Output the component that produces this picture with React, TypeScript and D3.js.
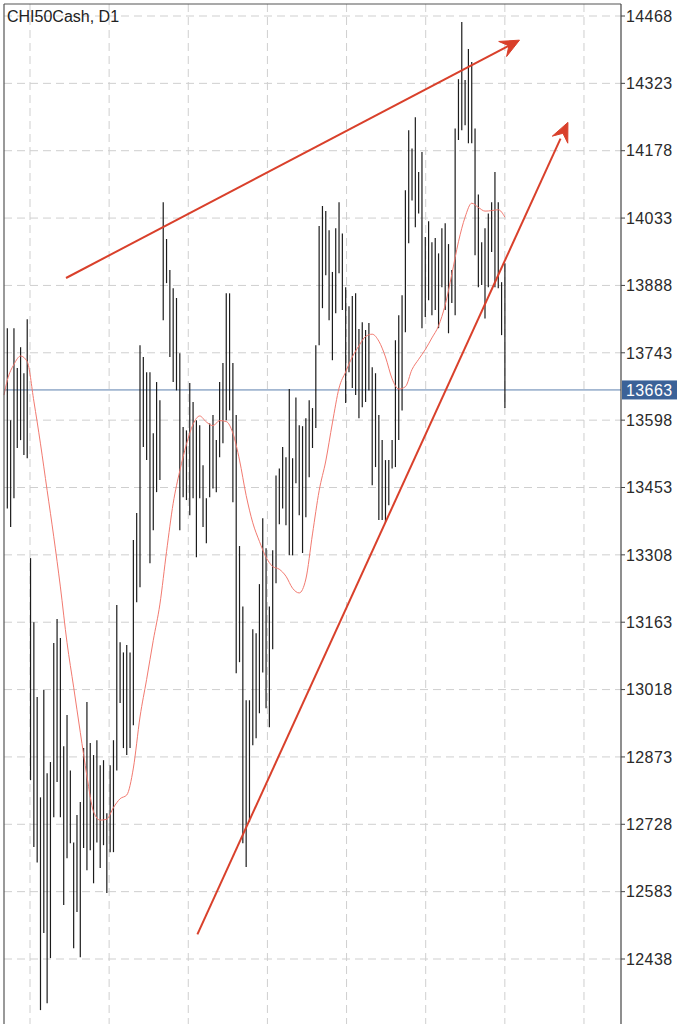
import React from 'react';
import * as d3 from 'd3';

const W = 682;
const H = 1024;
const title = 'CHI50Cash, D1';
const yTicks = [14468, 14323, 14178, 14033, 13888, 13743, 13598, 13453, 13308, 13163, 13018, 12873, 12728, 12583, 12438];
const lastPrice = 13663;

const highs = [
  13796, 13598, 13796, 13710, 13755, 13699, 13815, 13301, 13163, 13002,
  12786, 13017, 12838, 12862, 13118, 13170, 13129, 12896, 12963, 12844,
  12689, 12748, 12776, 12892, 12991, 12903, 12877, 12909, 12855, 12866,
  12752, 12855, 12909, 13200, 13120, 13098, 13114, 13098, 13340, 13398,
  13759, 13734, 13701, 13701, 13570, 13680, 13641, 14067, 13988, 13921,
  13882, 13861, 13742, 13583, 13576, 13678, 13637, 13598, 13587, 13501,
  13430, 13591, 13609, 13555, 13680, 13721, 13871, 13871, 13721, 13609,
  13327, 13197, 12995, 12995, 13148, 13139, 13245, 13387, 13322, 13197,
  13318, 13479, 13494, 13540, 13518, 13665, 13516, 13647, 13587, 13585,
  13602, 13641, 13624, 13759, 14016, 14059, 14048, 14007, 13917, 14011,
  14067, 14000, 13884, 13843, 13865, 13871, 13794, 13809, 13792, 13807,
  13712, 13699, 13609, 13555, 13512, 13512, 13555, 13770, 13824, 13867,
  14093, 14222, 14183, 14250, 14132, 14175, 13992, 14026, 13981, 13990,
  13957, 14011, 14022, 13977, 13921, 14226, 14332, 14455, 14330, 14397,
  14369, 14226, 14084, 13981, 14011, 14043, 14067, 14132, 14067, 13895,
  13936,
];
const lows = [
  13408, 13368, 13430, 13538, 13555, 13523, 13516, 12823, 12679, 12646,
  12328, 12494, 12343, 12440, 12743, 12819, 12743, 12554, 12655, 12687,
  12461, 12539, 12442, 12677, 12629, 12672, 12601, 12689, 12634, 12683,
  12580, 12668, 12668, 12844, 12989, 12892, 12877, 12892, 12941, 13206,
  13238, 13540, 13512, 13290, 13361, 13443, 13469, 13813, 13893, 13734,
  13680, 13662, 13361, 13432, 13426, 13393, 13430, 13303, 13430, 13368,
  13333, 13432, 13451, 13443, 13518, 13548, 13598, 13619, 13421, 13053,
  13077, 12687, 12636, 12733, 12898, 12913, 12967, 13055, 12978, 12937,
  13105, 13247, 13374, 13408, 13372, 13307, 13307, 13462, 13393, 13312,
  13389, 13475, 13538, 13581, 13759, 13839, 13910, 13813, 13727, 13828,
  13914, 13835, 13635, 13701, 13667, 13652, 13602, 13626, 13637, 13662,
  13458, 13497, 13383, 13383, 13378, 13415, 13494, 13497, 13555, 13619,
  13787, 13979, 14071, 14013, 14043, 13796, 13820, 13856, 13824, 13835,
  13796, 13884, 13835, 13785, 13850, 13824, 14201, 14222, 14233, 14194,
  14194, 13953, 13884, 13889, 13817, 13884, 13960, 13884, 13882, 13781,
  13624,
];

const maIdx = [-1, 0, 2, 4, 6, 8, 10, 12, 14, 16, 18, 20, 22, 24, 26, 28, 30, 32, 34, 36, 38, 40,
  42, 44, 46, 48, 50, 52, 54, 56, 58, 60, 62, 64, 66, 68, 70, 72, 74, 76, 78, 80, 82, 84, 86, 88,
  90, 92, 94, 96, 98, 100, 102, 104, 106, 108, 110, 112, 114, 116, 118, 120, 122, 124, 126, 128,
  130, 132, 134, 136, 138, 140, 142, 144, 146, 148, 150];
const maVal = [13652, 13684, 13718, 13736, 13724, 13639, 13547, 13447, 13347, 13239, 13119, 13023,
  12926, 12832, 12755, 12737, 12739, 12764, 12783, 12791, 12849, 12959, 13040, 13124, 13202, 13315,
  13419, 13489, 13546, 13589, 13607, 13594, 13586, 13597, 13595, 13570, 13512, 13436, 13377, 13337,
  13303, 13283, 13277, 13262, 13236, 13226, 13256, 13353, 13446, 13510, 13592, 13667, 13702, 13734,
  13758, 13778, 13783, 13768, 13734, 13687, 13665, 13670, 13707, 13729, 13750, 13775, 13801, 13846,
  13912, 13982, 14035, 14065, 14056, 14048, 14049, 14051, 14035];

const trendFromIdx = [17.7, 57.3];
const trendFromVal = [13904, 12491];
const trendToIdx = [154.4, 169.0];
const trendToVal = [14416, 14239];

const FONT = '"Liberation Sans", Arial, Helvetica, sans-serif';

export default function App() {
  const left = 4, right = 621, top = 4;
  const x = d3.scaleLinear().domain([-1, 185]).range([left, right]);
  const y = d3.scaleLinear().domain([12438, 14468]).range([959, 16]);

  const gridX0 = 30, gridStep = 79.14;
  const gridXs = d3.range(8).map((i) => gridX0 + i * gridStep);

  const maLine = d3
    .line<number>()
    .x((_, i) => x(maIdx[i]))
    .y((d) => y(d))
    .curve(d3.curveMonotoneX)(maVal) || '';

  const arrowHead = (x0: number, y0: number, x1: number, y1: number) => {
    const dx = x1 - x0, dy = y1 - y0;
    const len = Math.hypot(dx, dy);
    const ux = dx / len, uy = dy / len;
    const nx = -uy, ny = ux;
    const L = 19, Wd = 8.5, N = 12;
    const bx = x1 - ux * L, by = y1 - uy * L;
    const p1 = [bx + nx * Wd, by + ny * Wd];
    const p2 = [bx - nx * Wd, by - ny * Wd];
    const nc = [x1 - ux * N, y1 - uy * N];
    return `M${x1},${y1}L${p1[0]},${p1[1]}L${nc[0]},${nc[1]}L${p2[0]},${p2[1]}Z`;
  };

  const lastY = y(lastPrice);

  return (
    <svg width={W} height={H} style={{ position: 'absolute', left: 0, top: 0, background: '#fff' }}>
      <rect x={0} y={0} width={W} height={H} fill="#fff" />
      {yTicks.map((t) => (
        <line key={'h' + t} x1={left} x2={right} y1={y(t)} y2={y(t)} stroke="#cfcfcf" strokeWidth={1} strokeDasharray="8,5" />
      ))}
      {gridXs.map((gx, i) => (
        <line key={'v' + i} x1={gx} x2={gx} y1={top} y2={H} stroke="#cfcfcf" strokeWidth={1} strokeDasharray="8,5" />
      ))}
      <line x1={left} x2={right} y1={lastY} y2={lastY} stroke="#5b7fae" strokeWidth={1} />
      {highs.map((h, i) => (
        <line key={'b' + i} x1={x(i)} x2={x(i)} y1={y(h)} y2={y(lows[i])} stroke="#1c1c1c" strokeWidth={1.2} />
      ))}
      <path d={maLine} fill="none" stroke="#f27a70" strokeWidth={1} />
      {trendFromIdx.map((fi, k) => {
        const x0 = x(fi), y0 = y(trendFromVal[k]);
        const x1 = x(trendToIdx[k]), y1 = y(trendToVal[k]);
        return (
          <g key={'t' + k}>
            <line x1={x0} y1={y0} x2={x1 - (x1 - x0) * 0.02} y2={y1 - (y1 - y0) * 0.02} stroke="#d9402b" strokeWidth={2} />
            <path d={arrowHead(x0, y0, x1, y1)} fill="#d9402b" stroke="#d9402b" strokeWidth={1} strokeLinejoin="miter" />
          </g>
        );
      })}
      <line x1={left} x2={right} y1={top} y2={top} stroke="#555" strokeWidth={1.2} />
      <line x1={left} x2={left} y1={top} y2={H} stroke="#555" strokeWidth={1.2} />
      <line x1={right} x2={right} y1={top} y2={H} stroke="#444" strokeWidth={1.2} />
      {yTicks.map((t) => (
        <g key={'yt' + t}>
          <line x1={right} x2={right + 4} y1={y(t)} y2={y(t)} stroke="#444" strokeWidth={1} />
          <text x={right + 5} y={y(t)} dy="0.36em" fontFamily={FONT} fontSize={16} fill="#2a2a2a" letterSpacing={0.4}>
            {t}
          </text>
        </g>
      ))}
      <rect x={right + 1} y={lastY - 9.5} width={55} height={19} fill="#3b6298" />
      <text x={right + 5} y={lastY} dy="0.36em" fontFamily={FONT} fontSize={16} fill="#fff" letterSpacing={0.4}>
        {lastPrice}
      </text>
      <text x={7} y={21.8} fontFamily={FONT} fontSize={16} fill="#222">
        {title}
      </text>
    </svg>
  );
}
